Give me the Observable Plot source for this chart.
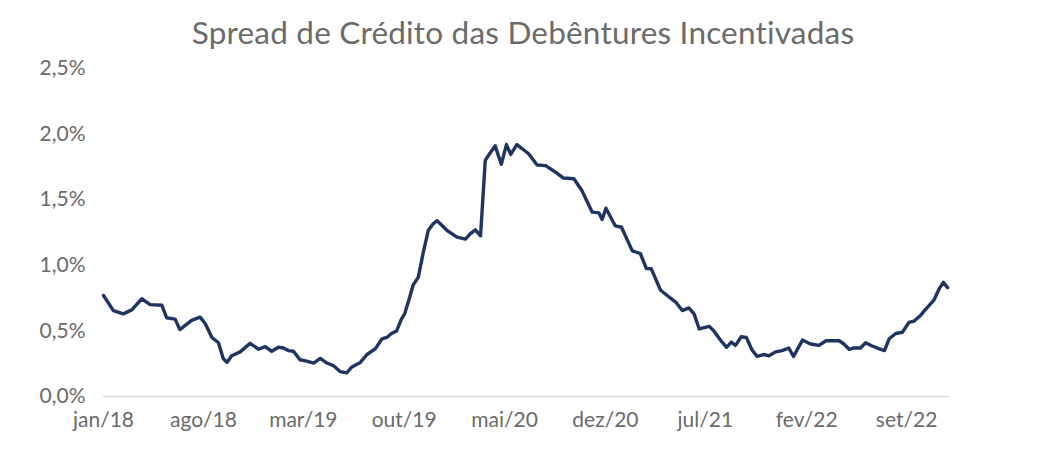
<!DOCTYPE html>
<html>
<head>
<meta charset="utf-8">
<script src="https://cdn.jsdelivr.net/npm/d3@7"></script>
<script src="https://cdn.jsdelivr.net/npm/@observablehq/plot@0.6"></script>
<style>
  html, body { margin: 0; padding: 0; background: #fff; }
  #title {
    height: 50px; box-sizing: border-box; padding-top: 17px;
    font-family: Lato, "Open Sans", sans-serif; font-size: 31.5px; line-height: 1;
    color: #6b6b6b; text-align: center; width: 1046px; letter-spacing: 0.2px;
  }
</style>
</head>
<body>
<div id="title">Spread de Crédito das Debêntures Incentivadas</div>
<div id="chart"></div>
<script>
const dates = [
  "2018-01-01","2018-01-22","2018-02-12","2018-03-02","2018-03-23","2018-04-10","2018-05-05","2018-05-15","2018-06-02","2018-06-12",
  "2018-07-07","2018-07-25","2018-08-05","2018-08-19","2018-09-02","2018-09-12","2018-09-20","2018-09-30","2018-10-18","2018-11-08",
  "2018-11-26","2018-12-10","2018-12-24","2019-01-07","2019-01-18","2019-01-28","2019-02-08","2019-02-22","2019-03-08","2019-03-23",
  "2019-04-06","2019-04-20","2019-05-04","2019-05-18","2019-06-01","2019-06-12","2019-06-30","2019-07-14","2019-08-01","2019-08-15",
  "2019-08-25","2019-09-04","2019-09-15","2019-09-25","2019-10-02","2019-10-13","2019-10-20","2019-10-31","2019-11-10","2019-11-21",
  "2019-12-01","2019-12-10","2019-12-31","2020-01-21","2020-02-08","2020-02-18","2020-02-29","2020-03-11","2020-03-21","2020-04-01",
  "2020-04-11","2020-04-24","2020-05-05","2020-05-14","2020-05-27","2020-06-07","2020-06-21","2020-07-09","2020-07-27","2020-08-17",
  "2020-09-03","2020-09-25","2020-10-12","2020-11-03","2020-11-17","2020-11-24","2020-12-02","2020-12-22","2021-01-04","2021-01-27",
  "2021-02-13","2021-02-26","2021-03-08","2021-03-28","2021-04-11","2021-04-29","2021-05-13","2021-05-27","2021-06-07","2021-06-18",
  "2021-07-09","2021-07-19","2021-08-02","2021-08-15","2021-08-25","2021-09-03","2021-09-15","2021-09-26","2021-10-08","2021-10-19",
  "2021-11-02","2021-11-13","2021-11-27","2021-12-11","2021-12-25","2022-01-04","2022-01-23","2022-02-09","2022-02-27","2022-03-14",
  "2022-04-11","2022-04-21","2022-05-02","2022-05-12","2022-05-26","2022-06-06","2022-06-20","2022-07-04","2022-07-16","2022-07-26",
  "2022-08-09","2022-08-23","2022-09-06","2022-09-17","2022-10-01","2022-10-15","2022-10-29","2022-11-09","2022-11-18","2022-11-27"
];
const spread = [
  0.77,0.655,0.63,0.66,0.745,0.70,0.695,0.60,0.59,0.51,
  0.58,0.605,0.555,0.45,0.41,0.29,0.26,0.31,0.34,0.405,
  0.36,0.38,0.345,0.375,0.37,0.35,0.345,0.28,0.27,0.255,
  0.29,0.255,0.235,0.19,0.18,0.225,0.26,0.32,0.365,0.44,
  0.45,0.48,0.50,0.59,0.63,0.76,0.85,0.91,1.09,1.265,
  1.315,1.34,1.265,1.215,1.20,1.24,1.27,1.225,1.80,1.86,
  1.91,1.77,1.92,1.845,1.92,1.89,1.85,1.765,1.76,1.71,
  1.665,1.66,1.57,1.405,1.40,1.35,1.435,1.30,1.29,1.11,
  1.09,0.975,0.975,0.81,0.77,0.72,0.655,0.675,0.63,0.515,
  0.535,0.50,0.43,0.375,0.415,0.39,0.455,0.45,0.355,0.305,
  0.32,0.31,0.34,0.35,0.37,0.305,0.43,0.40,0.39,0.425,
  0.425,0.40,0.36,0.37,0.37,0.41,0.385,0.365,0.35,0.44,
  0.48,0.49,0.565,0.575,0.62,0.68,0.735,0.82,0.87,0.83
];
const xTickDates = ["2018-01-01","2018-08-01","2019-03-01","2019-10-01","2020-05-01","2020-12-01","2021-07-01","2022-02-01","2022-09-01"];
const xTickLabels = ["jan/18","ago/18","mar/19","out/19","mai/20","dez/20","jul/21","fev/22","set/22"];
const yTicks = [0, 0.5, 1.0, 1.5, 2.0, 2.5];

const data = dates.map((d, i) => ({date: new Date(d), value: spread[i]}));
const tickMap = new Map(xTickDates.map((d, i) => [new Date(d).getTime(), xTickLabels[i]]));

const chart = Plot.plot({
  width: 1046,
  height: 420,
  marginLeft: 103,
  marginRight: 97,
  marginTop: 18,
  marginBottom: 74,
  style: {fontFamily: "Lato, 'Open Sans', sans-serif", fontSize: "21px", color: "#6a6a6a", background: "#fff"},
  x: {type: "utc", domain: [new Date("2018-01-01"), new Date("2022-12-01")]},
  y: {domain: [0, 2.5]},
  marks: [
    Plot.ruleY([0], {stroke: "#d9d9d9", strokeWidth: 1.5}),
    Plot.axisY({ticks: yTicks, tickSize: 0, tickPadding: 18, label: null,
      tickFormat: d => d.toFixed(1).replace(".", ",") + "%"}),
    Plot.axisX({ticks: xTickDates.map(d => new Date(d)), tickSize: 0, tickPadding: 16, label: null,
      tickFormat: d => tickMap.get(d.getTime())}),
    Plot.line(data, {x: "date", y: "value", stroke: "#1f3461", strokeWidth: 3.4, strokeLinejoin: "round", strokeLinecap: "round"})
  ]
});
document.getElementById("chart").appendChild(chart);
</script>
</body>
</html>
